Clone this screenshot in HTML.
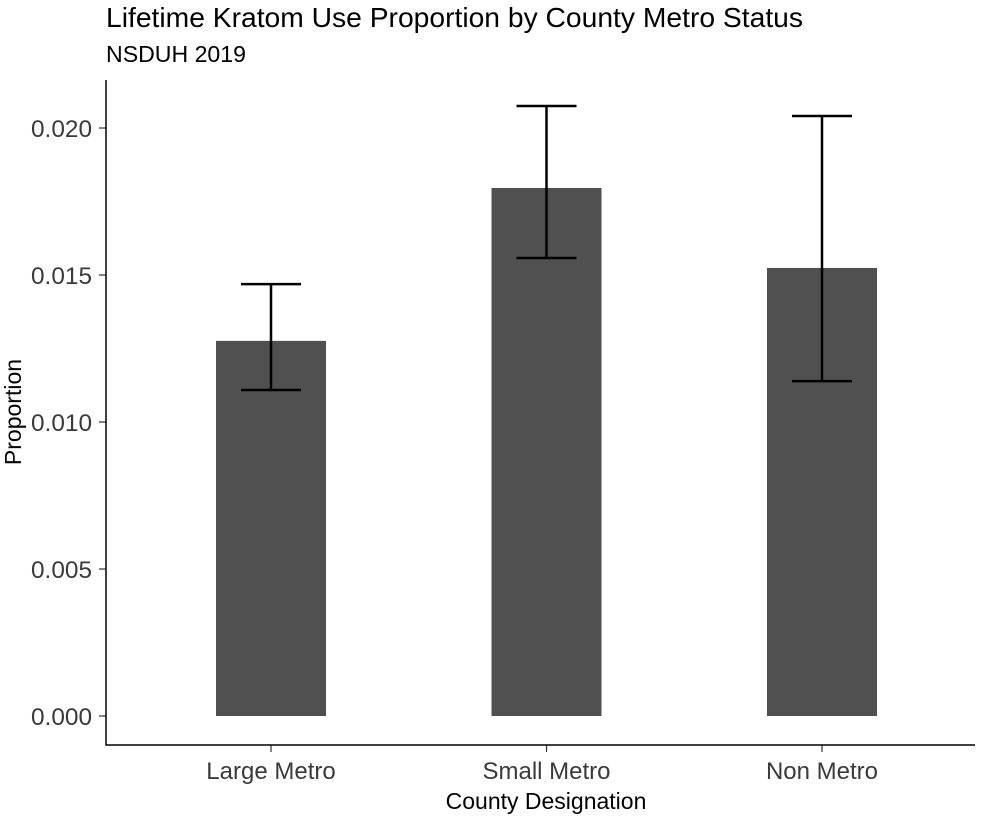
<!DOCTYPE html>
<html><head><meta charset="utf-8"><style>
body{margin:0;background:#fff;}
svg text{font-family:"Liberation Sans",Arial,sans-serif;}
</style></head><body>
<svg id="chart" width="990" height="818" viewBox="0 0 990 818" xmlns="http://www.w3.org/2000/svg">
<rect width="990" height="818" fill="#fff"/>
<text x="106" y="27" font-size="28" textLength="697" lengthAdjust="spacingAndGlyphs" fill="#000">Lifetime Kratom Use Proportion by County Metro Status</text>
<text x="106" y="62" font-size="23" textLength="140" lengthAdjust="spacingAndGlyphs" fill="#000">NSDUH 2019</text>
<g id="plot"></g>
<text x="546" y="809" font-size="23" text-anchor="middle">County Designation</text>
<text transform="translate(21,412) rotate(-90)" font-size="23" text-anchor="middle">Proportion</text>
</svg>
<script>
const categories=["Large Metro","Small Metro","Non Metro"];
const values=[0.01276,0.01796,0.01524];
const lower=[0.01109,0.01558,0.01139];
const upper=[0.01469,0.02075,0.02041];
const yTicks=[0,0.005,0.010,0.015,0.020];
const yTickLabels=["0.000","0.005","0.010","0.015","0.020"];
const NS="http://www.w3.org/2000/svg";
const g=document.getElementById('plot');
const y=v=>716-v*29400;
const x=i=>271+i*275.5;
function mk(t,a){const e=document.createElementNS(NS,t);for(const k in a)e.setAttribute(k,a[k]);g.appendChild(e);return e;}
categories.forEach((c,i)=>{
 const b=mk('rect',{x:x(i)-55,y:y(values[i]),width:110,height:y(0)-y(values[i]),fill:'#505050'});
 
 
 const eb=mk('path',{d:`M${x(i)-30},${y(upper[i])}H${x(i)+30}M${x(i)},${y(upper[i])}V${y(lower[i])}M${x(i)-30},${y(lower[i])}H${x(i)+30}`,stroke:'#000','stroke-width':2.5,fill:'none'});
 
 
 const tk=mk('line',{x1:x(i),x2:x(i),y1:745,y2:752,stroke:'#333','stroke-width':1.2});
 
 
 const t=mk('text',{x:x(i),y:779,'font-size':24,'text-anchor':'middle',fill:'#3a3a3a'});
 t.textContent=c;
 
 
});
yTicks.forEach((v,i)=>{
 const tk=mk('line',{x1:99,x2:106,y1:y(v),y2:y(v),stroke:'#333','stroke-width':1.2});
 
 
 const t=mk('text',{x:92,y:y(v)+9,'font-size':24,'text-anchor':'end',fill:'#3a3a3a',textLength:61,lengthAdjust:'spacingAndGlyphs'});
 t.textContent=yTickLabels[i];
 
 
});
const ax=mk('path',{d:'M106,80V745H975',stroke:'#000','stroke-width':1.5,fill:'none'});


</script>
</body></html>
